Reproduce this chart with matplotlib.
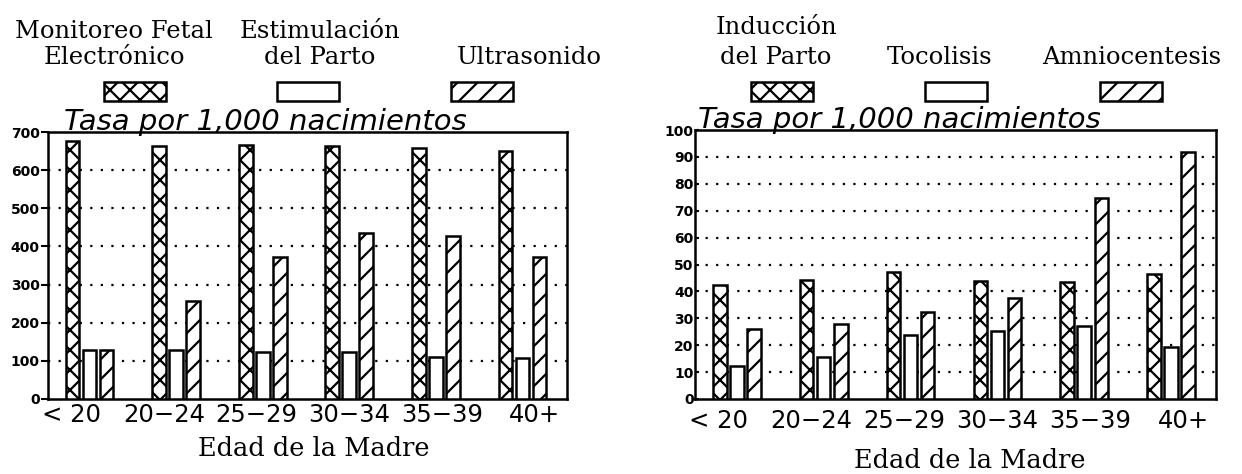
import matplotlib
matplotlib.use("Agg")
import matplotlib.pyplot as plt
import numpy as np
from matplotlib.patches import Rectangle

# ---------------- data ----------------
ages = ["< 20", "20−24", "25−29", "30−34", "35−39", "40+"]

left_names = ["Monitoreo Fetal\nElectrónico", "Estimulación\ndel Parto", "Ultrasonido"]
efm = [677, 664, 667, 662, 657, 651]
estim = [128, 128, 124, 124, 110, 108]
ultra = [128, 256, 373, 434, 427, 373]
left_yticks = [0, 100, 200, 300, 400, 500, 600, 700]

right_names = ["Inducción\ndel Parto", "Tocolisis", "Amniocentesis"]
induc = [42.3, 44.2, 47.2, 43.9, 43.5, 46.4]
toco = [12.1, 15.6, 23.8, 25.3, 27.2, 19.4]
amnio = [25.9, 28.0, 32.3, 37.5, 74.8, 91.8]
right_yticks = [0, 10, 20, 30, 40, 50, 60, 70, 80, 90, 100]

rate_label = "Tasa por 1,000 nacimientos"
age_label = "Edad de la Madre"

hatches = ["xx", "", "//"]

# ---------------- figure ----------------
W, H = 1242, 474
DPI = 120


def P(v):
    """size given for a 100-dpi canvas, converted to points at DPI"""
    return v * 100.0 / DPI


plt.rcParams["hatch.linewidth"] = P(1.6)
plt.rcParams["hatch.color"] = "black"
fig = plt.figure(figsize=(W / DPI, H / DPI), dpi=DPI)
fig.patch.set_facecolor("white")

SERIF = "DejaVu Serif"


def fx(px):
    return px / W


def fy(py):
    return 1 - py / H


def panel(left_px, right_px, top_px, bottom_px, series, yticks, tick_pad,
          ytick_len, ytick_dir):
    ax = fig.add_axes([fx(left_px), fy(bottom_px),
                       (right_px - left_px) / W, (bottom_px - top_px) / H])
    x = np.arange(len(ages))
    for k, (vals, h) in enumerate(zip(series, hatches)):
        ax.bar(x + (k - 1) * 0.196, vals, width=0.158, facecolor="white",
               edgecolor="black", linewidth=P(1.8), hatch=h, zorder=3)
    ax.set_xlim(-0.48, 5.515)
    ax.set_ylim(yticks[0], yticks[-1])
    ax.set_yticks(yticks)
    ax.set_yticklabels([str(t) for t in yticks], fontsize=P(10),
                       fontweight="bold", family="DejaVu Sans")
    ax.set_xticks(np.linspace(-0.21, 5.14, len(ages)))
    ax.set_xticklabels(ages, fontsize=P(17.5), family="DejaVu Sans")
    ax.tick_params(axis="x", length=0, pad=P(tick_pad))
    ax.tick_params(axis="y", length=P(ytick_len), width=P(1.5),
                   direction=ytick_dir, pad=P(1))
    for g in yticks[1:-1]:
        ax.axhline(g, color="black", linewidth=P(1.6),
                   linestyle=(0, (1, 3.75)), zorder=1)
    for s in ax.spines.values():
        s.set_linewidth(P(1.8))
    return ax


ax1 = panel(48, 567, 132, 399, [efm, estim, ultra], left_yticks, 3, 5, "out")
ax2 = panel(695, 1216, 130, 399, [induc, toco, amnio], right_yticks, 7, 3, "in")

# y-axis titles
fig.text(fx(64), fy(130), rate_label, fontsize=P(21), style="italic",
         family="DejaVu Sans", va="baseline", ha="left")
fig.text(fx(698), fy(128), rate_label, fontsize=P(21), style="italic",
         family="DejaVu Sans", va="baseline", ha="left")

# x-axis titles
fig.text(fx(314), fy(448), age_label, fontsize=P(18.5), family=SERIF,
         ha="center", va="center")
fig.text(fx(970), fy(460), age_label, fontsize=P(18.5), family=SERIF,
         ha="center", va="center")


# legends
def legend_item(name, text_cx, patch_cx, hatch, line_step):
    lines = name.split("\n")
    last_y = 58
    for i, ln in enumerate(lines):
        yy = last_y - (len(lines) - 1 - i) * line_step
        fig.text(fx(text_cx), fy(yy), ln, fontsize=P(17.5), family=SERIF,
                 ha="center", va="center")
    pw, ph = 62, 19
    fig.add_artist(Rectangle((fx(patch_cx - pw / 2), fy(101)), pw / W, ph / H,
                             transform=fig.transFigure, facecolor="white",
                             edgecolor="black", linewidth=P(1.8), hatch=hatch))


for name, tcx, pcx, h in zip(left_names, [114, 320, 529], [135, 308, 482], hatches):
    legend_item(name, tcx, pcx, h, 26)
for name, tcx, pcx, h in zip(right_names, [776, 940, 1132], [782, 956, 1131], hatches):
    legend_item(name, tcx, pcx, h, 30)

fig.savefig("out.png", dpi=DPI, facecolor="white")
